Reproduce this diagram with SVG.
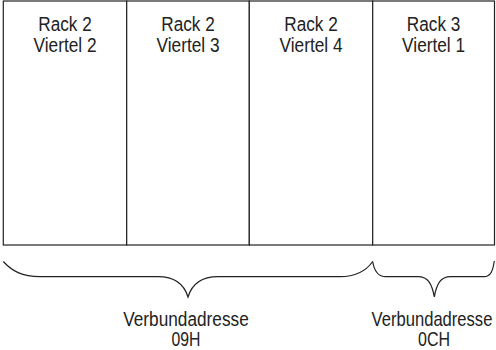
<svg xmlns="http://www.w3.org/2000/svg" width="496" height="350" viewBox="0 0 496 350">
  <style>
    .cell { fill: #fff; stroke: #222; stroke-width: 1.2; }
    .brace { fill: none; stroke: #222; stroke-width: 1.2; }
    text { font-family: "Liberation Sans", Arial, sans-serif; font-size: 20px; fill: #222; text-anchor: middle; }
  </style>
  <rect width="496" height="350" fill="#fff"/>

  <!-- four quarter cells; narrow lettering via textLength -->
  <g id="q1">
    <rect class="cell" x="3.3" y="1" width="123.4" height="244"/>
    <text x="65" y="31" textLength="53.5" lengthAdjust="spacingAndGlyphs">Rack 2</text>
    <text x="65" y="51.5" textLength="63" lengthAdjust="spacingAndGlyphs">Viertel 2</text>
  </g>
  <g id="q2">
    <rect class="cell" x="126.7" y="1" width="122.6" height="244"/>
    <text x="188" y="31" textLength="53.5" lengthAdjust="spacingAndGlyphs">Rack 2</text>
    <text x="188" y="51.5" textLength="63" lengthAdjust="spacingAndGlyphs">Viertel 3</text>
  </g>
  <g id="q3">
    <rect class="cell" x="249.3" y="1" width="123.4" height="244"/>
    <text x="311" y="31" textLength="53.5" lengthAdjust="spacingAndGlyphs">Rack 2</text>
    <text x="311" y="51.5" textLength="63" lengthAdjust="spacingAndGlyphs">Viertel 4</text>
  </g>
  <g id="q4">
    <rect class="cell" x="372.7" y="1" width="121.8" height="244"/>
    <text x="433.6" y="31" textLength="53.5" lengthAdjust="spacingAndGlyphs">Rack 3</text>
    <text x="433.6" y="51.5" textLength="63" lengthAdjust="spacingAndGlyphs">Viertel 1</text>
  </g>

  <!-- curly braces grouping the quarters -->
  <g id="braces">
    <path class="brace" d="M3.3,261.5 C12,271 22,276.7 40,276.7 L158,276.7 C174,276.7 184,284 188,297 C192,284 202,276.7 218,276.7 L340,276.7 C356,276.7 366,271 372.7,261.5"/>
    <path class="brace" d="M372.7,261.5 C374,270 377,276.7 386,276.7 L418,276.7 C428,276.7 432,284 434.3,297 C436.6,284 440.6,276.7 450.6,276.7 L484,276.7 C491,276.7 493,270 494.3,261"/>
  </g>

  <g id="label-09H">
    <text x="186" y="325.5" textLength="125.5" lengthAdjust="spacingAndGlyphs">Verbundadresse</text>
    <text x="186" y="346" textLength="29" lengthAdjust="spacingAndGlyphs">09H</text>
  </g>
  <g id="label-0CH">
    <!-- horizontally squeezed so the label stays inside the right edge -->
    <text transform="translate(432,325.5) scale(0.83,1)" x="0" y="0">Verbundadresse</text>
    <text x="434" y="346" textLength="32" lengthAdjust="spacingAndGlyphs">0CH</text>
  </g>
</svg>
